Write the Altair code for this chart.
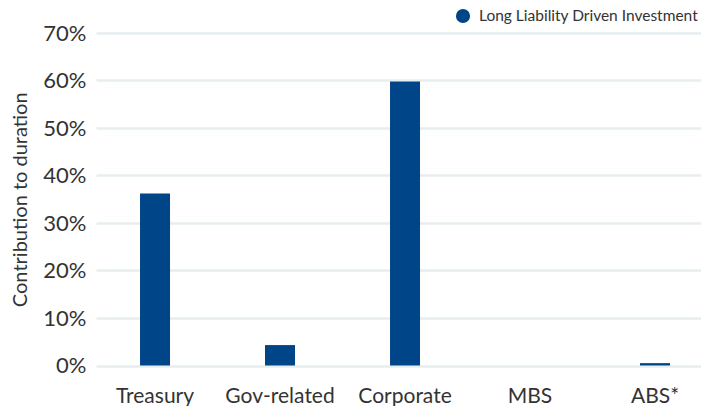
import altair as alt
import pandas as pd

categories = ["Treasury", "Gov-related", "Corporate", "MBS", "ABS*"]
values = [0.362, 0.043, 0.598, 0.0, 0.005]
series = ["Long Liability Driven Investment"] * 5

df = pd.DataFrame({"category": categories, "value": values, "series": series})

FONT = "Lato"
chart = alt.Chart(df).mark_bar(color="#004588").encode(
    x=alt.X("category:N", sort=categories, title=None,
            scale=alt.Scale(paddingInner=0.76, paddingOuter=0.3, align=0.587, round=False),
            axis=alt.Axis(labelAngle=0, labelFontSize=21, labelColor="#333333",
                          labelFont=FONT, domain=False, ticks=False, labelPadding=20,
                          grid=False)),
    y=alt.Y("value:Q", title="Contribution to duration",
            scale=alt.Scale(domain=[0, 0.7]),
            axis=alt.Axis(format=".0%", values=[0, 0.1, 0.2, 0.3, 0.4, 0.5, 0.6, 0.7],
                          labelFontSize=22, labelColor="#333333", labelFont=FONT,
                          domain=False, ticks=False, labelPadding=10,
                          titleFont=FONT, titleFontSize=20, titleColor="#333333",
                          titleFontWeight="normal", titlePadding=12,
                          gridColor="#e6eef0", gridWidth=2.5)),
    fill=alt.Fill("series:N", scale=alt.Scale(range=["#004588"]),
                  legend=alt.Legend(title=None, orient="none", legendX=359, legendY=-25,
                                    symbolType="circle", symbolSize=200, labelLimit=400,
                                    labelOffset=8,
                                    labelFont=FONT, labelFontSize=15.5, labelColor="#333333")),
).properties(
    width=605, height=332.5,
    autosize=alt.AutoSizeParams(type="none"),
    padding={"left": 88, "top": 25, "right": 0, "bottom": 40},
).configure_view(stroke=None)

chart.save("out.html", embed_options={"renderer": "svg", "actions": False})
